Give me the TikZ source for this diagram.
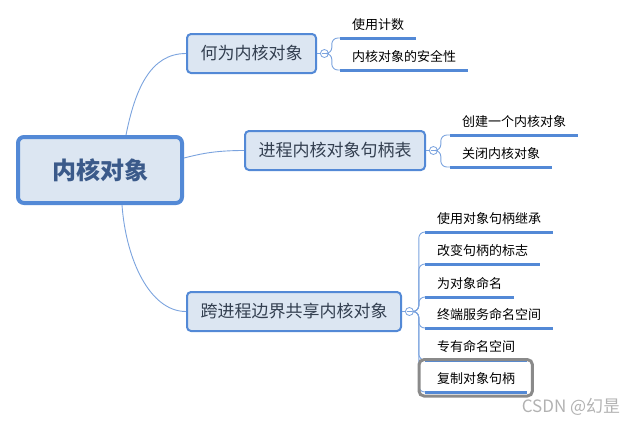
\documentclass[tikz,border=0pt]{standalone}
\usepackage{fontspec}
\setmainfont{Noto Sans CJK SC}
\usetikzlibrary{positioning}
\definecolor{mapblue}{HTML}{5389D6}
\definecolor{mapfill}{HTML}{DCE6F2}
\definecolor{maplink}{HTML}{7BA3DE}
\definecolor{roottext}{HTML}{3B5A8A}
\definecolor{topictext}{HTML}{333F50}
\definecolor{selgray}{HTML}{8A8A8A}

\begin{document}
\begin{tikzpicture}[
  x=1pt,y=1pt,
  root/.style={draw=mapblue,fill=mapfill,line width=4pt,rounded corners=6pt,
    minimum width=164pt,minimum height=66pt,text=roottext,
    font=\fontsize{24pt}{28pt}\selectfont\bfseries},
  topic/.style={draw=mapblue,fill=mapfill,line width=2pt,rounded corners=4pt,
    inner xsep=13.5pt,minimum height=39pt,text=topictext,anchor=west,
    font=\fontsize{17pt}{20pt}\selectfont},
  knob/.style={circle,draw=maplink,fill=white,line width=0.8pt,inner sep=0pt,
    minimum size=8pt,path picture={\draw[maplink,line width=0.8pt]
      ([xshift=-2.5pt]path picture bounding box.center) --
      ([xshift=2.5pt]path picture bounding box.center);}},
  leaf/.style={anchor=south west,inner xsep=12pt,inner ysep=5pt,
    text height=11pt,text depth=3pt,font=\fontsize{13pt}{16pt}\selectfont},
  link/.style={draw=maplink,line width=0.9pt},
  uline/.style={draw=mapblue,line width=3pt},
  wmark/.style={text=black!30,font=\fontsize{17pt}{19pt}\selectfont}]
\useasboundingbox (0,0) rectangle (642,-424);
% central topic and main branches
\node[root] (root) at (100,-170) {内核对象};
\node[topic] (b1) at (186,-53.5) {何为内核对象};
\node[topic] (b2) at (244,-150.5) {进程内核对象句柄表};
\node[topic] (b3) at (186,-311.5) {跨进程边界共享内核对象};
\node[knob,right=3pt of b1] (k1) {};
\node[knob,right=3pt of b2] (k2) {};
\node[knob,right=3pt of b3] (k3) {};
\coordinate (j1) at ([xshift=3pt]k1.east);
\coordinate (j2) at ([xshift=3pt]k2.east);
\coordinate (j3) at ([xshift=5pt]k3.east);
% leaves
\node[leaf] (c11) at (340,-38) {使用计数};
\node[leaf] (c12) at (340,-70) {内核对象的安全性};
\node[leaf] (c21) at (450,-135) {创建一个内核对象};
\node[leaf] (c22) at (450,-167) {关闭内核对象};
\node[leaf] (c31) at (425,-232) {使用对象句柄继承};
\node[leaf] (c32) at (425,-264) {改变句柄的标志};
\node[leaf] (c33) at (425,-297) {为对象命名};
\node[leaf] (c34) at (425,-328) {终端服务命名空间};
\node[leaf] (c35) at (425,-360) {专有命名空间};
\node[leaf] (c36) at (425,-392) {复制对象句柄};
\node[wmark] (wm) at (571,-407) {CSDN @幻昰};
% connectors
\draw[link] ([xshift=26pt]root.north) .. controls +(9,45) and +(-36,0) .. (b1.west);
\draw[link] ([yshift=12pt]root.east) .. controls +(16,4) and +(-30,0) .. (b2.west);
\draw[link] ([xshift=22pt]root.south) .. controls +(4,-55) and +(-36,0) .. (b3.west);
\draw[link] (b1) -- (k1);
\draw[link] (b2) -- (k2);
\draw[link] (b3) -- (k3);
\foreach \c in {c11,c12}
  \draw[link,rounded corners=6pt] (k1.east) -- (j1) |- (\c.south west);
\foreach \c in {c21,c22}
  \draw[link,rounded corners=6pt] (k2.east) -- (j2) |- (\c.south west);
\foreach \c in {c31,c32,c33,c34,c35,c36}
  \draw[link,rounded corners=6pt] (k3.east) -- (j3) |- (\c.south west);
\foreach \c in {c11,c12,c21,c22,c31,c32,c33,c34,c35,c36}
  \draw[uline] (\c.south west) -- (\c.south east);
% selection frame
\draw[selgray,line width=3pt,rounded corners=5pt]
  ([shift={(-6pt,-4pt)}]c36.south west) rectangle ([shift={(5pt,8pt)}]c36.north east);
\end{tikzpicture}
\end{document}
